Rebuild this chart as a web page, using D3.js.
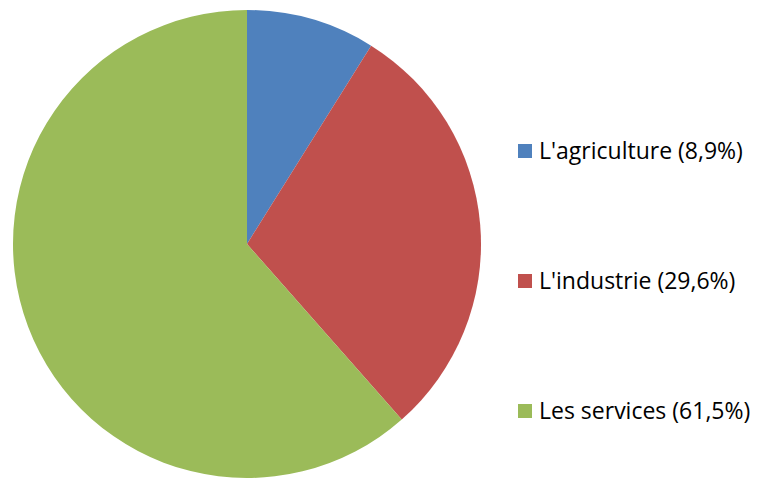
<!DOCTYPE html>
<html>
<head>
<meta charset="utf-8">
<script src="https://cdn.jsdelivr.net/npm/d3@7"></script>
<style>
  body { margin: 0; background: #fff; }
</style>
</head>
<body>
<div id="chart"></div>
<script>
// data
const sectors = ["L'agriculture", "L'industrie", "Les services"];
const shares = [8.9, 29.6, 61.5];
const colors = ["#4F81BD", "#C0504D", "#9BBB59"];

const width = 758, height = 478;
const cx = 247, cy = 244, radius = 234;

const svg = d3.select("#chart")
    .append("svg")
    .attr("width", width)
    .attr("height", height);

const pie = d3.pie().sort(null).value(d => d);
const arc = d3.arc().innerRadius(0).outerRadius(radius);

// slices
svg.append("g")
    .attr("transform", `translate(${cx},${cy})`)
    .selectAll("path")
    .data(pie(shares))
    .join("path")
    .attr("d", arc)
    .attr("fill", (d, i) => colors[i]);

// legend
const legendY = d3.scalePoint()
    .domain(sectors)
    .range([159, 419]);

const fmt = v => v.toFixed(1).replace(".", ",");

const legend = svg.append("g");

legend.selectAll("rect")
    .data(sectors)
    .join("rect")
    .attr("x", 518)
    .attr("y", d => legendY(d) - 15)
    .attr("width", 14)
    .attr("height", 14)
    .attr("fill", (d, i) => colors[i]);

legend.selectAll("text")
    .data(sectors)
    .join("text")
    .attr("x", 539)
    .attr("y", d => legendY(d))
    .style("font-family", "'Open Sans', sans-serif")
    .style("font-size", "23px")
    .attr("fill", "#000")
    .text((d, i) => `${d} (${fmt(shares[i])}%)`);
</script>
</body>
</html>
